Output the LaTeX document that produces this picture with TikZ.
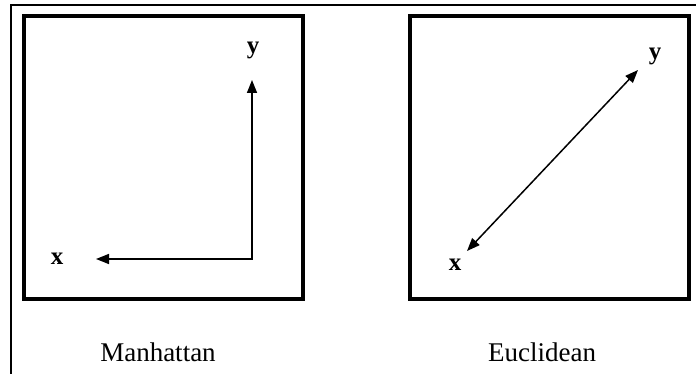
\documentclass[tikz,border=0pt]{standalone}
\usepackage{fontspec}
\setmainfont{Liberation Serif}
\usetikzlibrary{arrows.meta}
\tikzset{
  frame/.style={line width=2pt},
  panel/.style={draw, line width=4pt, inner sep=0pt, minimum width=279pt, minimum height=283pt},
  arr/.style={line width=1.5pt, {Triangle[length=13pt,width=10pt]}-{Triangle[length=13pt,width=10pt]}},
  axlabel/.style={font=\fontsize{25}{30}\selectfont\bfseries, anchor=base, inner sep=0pt},
  caption/.style={font=\fontsize{27}{32}\selectfont, anchor=base, inner sep=0pt}
}
\begin{document}
\begin{tikzpicture}[x=1pt,y=-1pt]
\useasboundingbox (0,0) rectangle (696,374);
% outer frame (left and top only)
\coordinate (fb) at (11,375);
\coordinate (fc) at (11,5);
\coordinate (fr) at (697,5);
\draw[frame] (fb) -- (fc) -- (fr);
% panels
\node[panel] (lbox) at (163.25,157.5) {};
\node[panel] (rbox) at (549.5,157.5) {};
% Manhattan
\coordinate (mh) at (96,259);
\coordinate (mc) at (252,259);
\coordinate (mv) at (252,80);
\draw[arr] (mh) -- (mc) -- (mv);
\node[axlabel] (mx) at (57,265) {x};
\node[axlabel] (my) at (253,54) {y};
% Euclidean
\coordinate (e1) at (467,251);
\coordinate (e2) at (638,70);
\draw[arr] (e1) -- (e2);
\node[axlabel] (ex) at (455,270) {x};
\node[axlabel] (ey) at (655,60) {y};
% captions
\node[caption] (cm) at (158,361) {Manhattan};
\node[caption] (ce) at (542,361) {Euclidean};
\end{tikzpicture}
\end{document}
